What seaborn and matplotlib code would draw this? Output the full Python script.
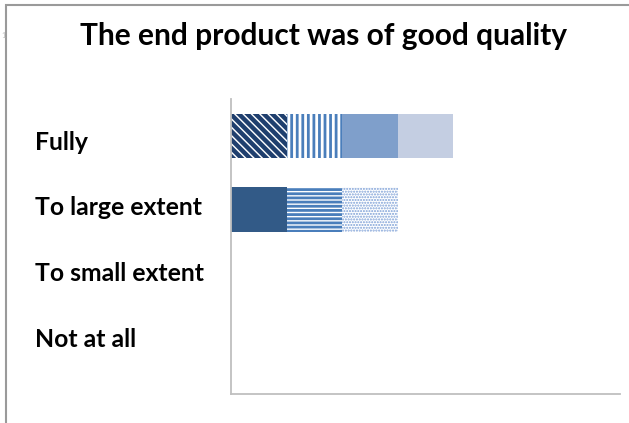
import matplotlib
matplotlib.use("Agg")
import matplotlib.pyplot as plt
import seaborn as sns
import numpy as np
import pandas as pd
from matplotlib.patches import Rectangle

categories = ["Fully", "To large extent", "To small extent", "Not at all"]
title = "The end product was of good quality"

# one segment per series, stacked left to right
series_names = ["S1", "S2", "S3", "S4", "S5", "S6", "S7"]
s1 = [1, 0, 0, 0]
s2 = [1, 0, 0, 0]
s3 = [1, 0, 0, 0]
s4 = [1, 0, 0, 0]
s5 = [0, 1, 0, 0]
s6 = [0, 1, 0, 0]
s7 = [0, 1, 0, 0]
series_values = [s1, s2, s3, s4, s5, s6, s7]

styles = [
    dict(facecolor="white", edgecolor="#1F3F6E", hatch="\\\\\\\\", hlw=3.2),
    dict(facecolor="white", edgecolor="#4A7EBB", hatch="|||", hlw=2.0),
    dict(facecolor="#7F9FCB", edgecolor="#7F9FCB", hatch=None, hlw=1.0),
    dict(facecolor="#C4CEE2", edgecolor="#C4CEE2", hatch=None, hlw=1.0),
    dict(facecolor="#325A87", edgecolor="#325A87", hatch=None, hlw=1.0),
    dict(facecolor="white", edgecolor="#4A7EBB", hatch="----", hlw=2.0),
    dict(facecolor="white", edgecolor="#7C9FD6", hatch="......", hlw=1.0),
]

sns.set_theme(style="white")
plt.rcParams["font.family"] = ["Lato", "DejaVu Sans"]

W, H = 629, 423
fig = plt.figure(figsize=(W / 100, H / 100), dpi=100)
ax = fig.add_axes([231 / W, 1 - 394 / H, (620 - 231) / W, (394 - 99) / H])

cum = np.cumsum(np.array(series_values, dtype=float), axis=0)
for i in reversed(range(len(series_names))):
    st = styles[i]
    df = pd.DataFrame({"cat": categories, "val": cum[i]})
    with plt.rc_context({"hatch.linewidth": st["hlw"]}):
        sns.barplot(data=df, y="cat", x="val", order=categories, orient="h",
                    ax=ax, color=st["facecolor"], saturation=1, width=0.6,
                    linewidth=0, edgecolor=st["edgecolor"], hatch=st["hatch"])

ax.set_xlim(0, 7)
ax.set_ylim(3.5, -0.5)
ax.set_xlabel("")
ax.set_ylabel("")
ax.set_xticks([])
ax.set_yticks([])
for s in ["top", "right"]:
    ax.spines[s].set_visible(False)
for s in ["left", "bottom"]:
    ax.spines[s].set_color("#BFBFBF")
    ax.spines[s].set_linewidth(1.3)

# category labels
baselines = [150, 215, 281, 347]
for lab, yb in zip(categories, baselines):
    fig.text(35 / W, 1 - yb / H, lab, ha="left", va="baseline",
             fontsize=17.8, fontweight="bold", color="black")

fig.text(323 / W, 1 - 45 / H, title, ha="center", va="baseline",
         fontsize=21.5, fontweight="bold", color="black")

# page frame
fig.patches.append(Rectangle((6 / W, -0.05), 1.1, 1 - 5 / H + 0.05,
                             transform=fig.transFigure, fill=False,
                             edgecolor="#9A9A9A", linewidth=1.5, zorder=0))
fig.text(1 / W, 1 - 38 / H, "1", fontsize=5, color="#BBBBBB")

fig.savefig("out.png", dpi=100)
